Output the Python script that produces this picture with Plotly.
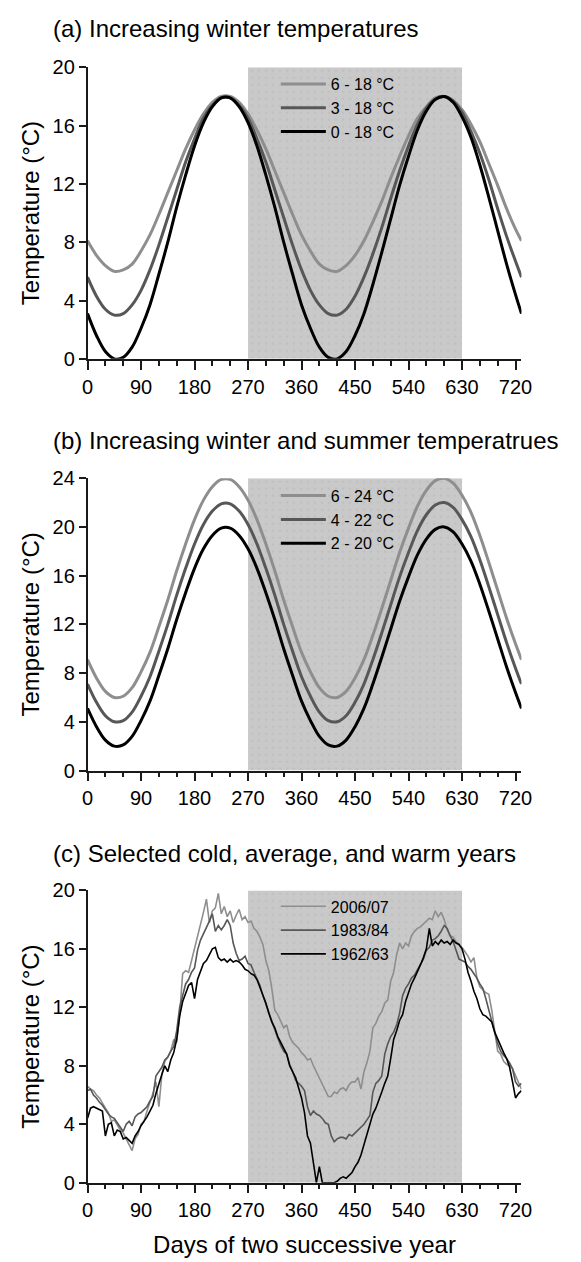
import plotly.graph_objects as go

W, H = 581, 1262
FONT = "Liberation Sans, Arial, sans-serif"

# ---------------- data ----------------
SINE_DAYS = [0, 15, 30, 45, 60, 75, 90, 105, 120, 135, 150, 165, 180, 195, 210, 225,
             240, 255, 270, 285, 300, 315, 330, 345, 360, 375, 390, 405, 420, 435, 450, 465,
             480, 495, 510, 525, 540, 555, 570, 585, 600, 615, 630, 645, 660, 675, 690, 705, 720,
             730]

A_6_18 = [8.1, 7.1, 6.4, 6.0, 6.1, 6.5, 7.4, 8.5, 9.9, 11.4, 12.9, 14.4, 15.7, 16.8, 17.6, 18.0,
          18.0, 17.6, 16.8, 15.7, 14.4, 12.9, 11.4, 9.9, 8.5, 7.4, 6.5, 6.1, 6.0, 6.4, 7.1, 8.1,
          9.4, 10.8, 12.4, 13.9, 15.3, 16.5, 17.3, 17.9, 18.0, 17.7, 17.1, 16.1, 14.9, 13.4, 11.9, 10.3, 8.9,
          8.1]
A_3_18 = [5.6, 4.3, 3.4, 3.0, 3.1, 3.7, 4.7, 6.1, 7.8, 9.7, 11.6, 13.5, 15.1, 16.5, 17.4, 17.9,
          17.9, 17.4, 16.5, 15.1, 13.5, 11.6, 9.7, 7.8, 6.1, 4.7, 3.7, 3.1, 3.0, 3.4, 4.3, 5.6,
          7.2, 9.0, 11.0, 12.9, 14.6, 16.1, 17.2, 17.8, 18.0, 17.7, 16.9, 15.6, 14.1, 12.3, 10.3, 8.4, 6.7,
          5.6]
A_0_18 = [3.1, 1.6, 0.5, 0.0, 0.1, 0.8, 2.1, 3.7, 5.8, 8.0, 10.4, 12.6, 14.6, 16.2, 17.3, 17.9,
          17.9, 17.3, 16.2, 14.6, 12.6, 10.4, 8.0, 5.8, 3.7, 2.1, 0.8, 0.1, 0.0, 0.5, 1.6, 3.1,
          5.1, 7.3, 9.6, 11.9, 13.9, 15.7, 17.0, 17.8, 18.0, 17.6, 16.6, 15.2, 13.3, 11.1, 8.8, 6.5, 4.4,
          3.1]

B_6_24 = [9.1, 7.6, 6.5, 6.0, 6.1, 6.8, 8.1, 9.7, 11.8, 14.0, 16.4, 18.6, 20.6, 22.2, 23.3, 23.9,
          23.9, 23.3, 22.2, 20.6, 18.6, 16.4, 14.0, 11.8, 9.7, 8.1, 6.8, 6.1, 6.0, 6.5, 7.6, 9.1,
          11.1, 13.3, 15.6, 17.9, 19.9, 21.7, 23.0, 23.8, 24.0, 23.6, 22.6, 21.2, 19.3, 17.1, 14.8, 12.5, 10.4,
          9.1]
B_4_22 = [7.1, 5.6, 4.5, 4.0, 4.1, 4.8, 6.1, 7.7, 9.8, 12.0, 14.4, 16.6, 18.6, 20.2, 21.3, 21.9,
          21.9, 21.3, 20.2, 18.6, 16.6, 14.4, 12.0, 9.8, 7.7, 6.1, 4.8, 4.1, 4.0, 4.5, 5.6, 7.1,
          9.1, 11.3, 13.6, 15.9, 17.9, 19.7, 21.0, 21.8, 22.0, 21.6, 20.6, 19.2, 17.3, 15.1, 12.8, 10.5, 8.4,
          7.1]
B_2_20 = [5.1, 3.6, 2.5, 2.0, 2.1, 2.8, 4.1, 5.7, 7.8, 10.0, 12.4, 14.6, 16.6, 18.2, 19.3, 19.9,
          19.9, 19.3, 18.2, 16.6, 14.6, 12.4, 10.0, 7.8, 5.7, 4.1, 2.8, 2.1, 2.0, 2.5, 3.6, 5.1,
          7.1, 9.3, 11.6, 13.9, 15.9, 17.7, 19.0, 19.8, 20.0, 19.6, 18.6, 17.2, 15.3, 13.1, 10.8, 8.5, 6.4,
          5.1]

C_DAYS = list(range(0, 731, 5))

Y_2006_07 = [6.6, 6.4, 6.3, 6.0, 5.8, 5.4, 5.1, 4.8, 4.2, 4.3,
             3.9, 3.6, 3.4, 3.0, 2.6, 2.2, 3.0, 3.3, 4.0, 4.2,
             4.9, 5.5, 6.1, 6.9, 5.2, 7.4, 8.3, 8.6, 9.0, 9.8,
             9.6, 11.5, 14.3, 14.5, 14.4, 15.2, 16.0, 16.7, 17.6, 18.5,
             19.4, 17.8, 18.6, 18.8, 19.8, 18.4, 18.9, 18.2, 18.6, 17.8,
             18.3, 18.7, 18.0, 18.2, 17.8, 17.9, 17.4, 17.2, 16.8, 16.3,
             15.2, 14.5, 13.3, 11.8, 11.5, 11.0, 10.6, 10.8, 10.0, 9.6,
             9.4, 9.2, 8.9, 8.7, 8.4, 8.5, 8.0, 7.6, 7.1, 6.8,
             6.4, 5.9, 5.9, 6.2, 6.1, 6.4, 6.5, 6.3, 6.7, 6.9,
             6.9, 7.2, 6.4, 7.6, 8.2, 9.0, 10.6, 10.9, 11.4, 11.7,
             12.3, 12.5, 13.8, 14.4, 15.6, 16.4, 16.0, 16.4, 16.2, 16.9,
             17.2, 17.4, 17.5, 17.7, 17.9, 18.1, 18.0, 18.6, 18.2, 18.5,
             18.0, 17.3, 16.9, 16.8, 16.5, 16.3, 16.1, 15.8, 15.5, 15.1,
             15.4, 14.0, 13.4, 13.2, 13.0, 12.9, 11.8, 10.4, 9.0, 8.8,
             8.3, 8.1, 8.0, 7.8, 7.3, 6.8, 6.4]
Y_1983_84 = [6.3, 6.4, 6.0, 5.8, 5.5, 5.3, 5.0, 4.7, 4.5, 4.4,
             4.1, 3.8, 3.5, 4.0, 4.2, 3.9, 4.5, 4.7, 4.8, 5.0,
             5.2, 5.6, 5.9, 7.3, 7.6, 7.9, 8.4, 8.6, 9.0, 9.3,
             10.4, 12.0, 12.8, 13.6, 13.9, 14.4, 14.7, 15.9, 16.6, 17.0,
             17.5, 17.9, 18.4, 17.2, 17.6, 17.3, 17.6, 18.0, 17.6, 16.4,
             15.7, 15.2, 15.3, 15.5, 15.0, 14.9, 14.4, 13.9, 13.5, 12.8,
             12.2, 11.7, 11.0, 10.4, 9.9, 9.4, 9.0, 8.8, 8.1, 7.6,
             7.0, 6.8, 6.6, 6.3, 5.2, 4.6, 4.9, 4.7, 4.6, 4.4,
             4.1, 4.0, 3.2, 2.8, 3.0, 3.1, 3.1, 3.0, 3.3, 3.2,
             3.4, 3.6, 3.8, 4.0, 4.3, 4.6, 6.2, 6.8, 7.0, 7.3,
             8.8, 9.5, 10.0, 10.3, 10.8, 11.6, 12.8, 13.3, 13.6, 14.0,
             14.2, 14.6, 14.9, 15.3, 15.9, 16.1, 16.6, 16.7, 16.9, 17.2,
             17.6, 17.4, 16.9, 16.5, 15.9, 15.3, 15.2, 15.1, 14.8, 14.6,
             14.3, 14.0, 13.6, 13.3, 12.6, 11.8, 11.1, 10.3, 9.5, 9.0,
             8.7, 8.5, 8.2, 7.8, 6.9, 6.6, 6.8]
Y_1962_63 = [4.4, 5.1, 5.2, 5.1, 5.0, 4.9, 3.2, 4.0, 4.1, 3.2,
             3.6, 3.5, 3.0, 3.1, 2.9, 2.7, 3.2, 3.5, 3.9, 4.2,
             4.5, 4.9, 5.3, 6.1, 6.8, 7.4, 8.0, 7.6, 8.4, 8.9,
             9.8, 11.4, 12.4, 13.0, 13.5, 13.7, 12.6, 13.9, 14.4, 15.0,
             15.2, 15.6, 16.0, 16.1, 15.4, 15.2, 15.3, 15.1, 15.3, 15.1,
             15.2, 15.1, 14.9, 14.6, 14.5, 14.3, 14.2, 13.9, 13.4, 12.9,
             12.3, 11.6, 11.0, 10.6, 10.0, 9.6, 9.2, 8.8, 8.0, 7.6,
             7.2, 6.5, 5.8, 4.8, 3.2, 2.7, 1.5, 0.0, 1.1, 0.0,
             0.0, 0.0, 0.0, 0.0, 0.1, 0.3, 0.4, 0.3, 0.5, 0.7,
             1.1, 1.4, 1.9, 2.6, 3.4, 4.1, 4.7, 5.1, 5.6, 6.2,
             6.8, 7.3, 8.5, 9.8, 10.4, 11.1, 11.5, 12.4, 13.0, 13.6,
             14.0, 14.4, 14.9, 15.4, 16.0, 17.4, 16.2, 16.5, 16.3, 16.6,
             16.4, 16.5, 16.3, 16.6, 16.4, 16.3, 16.0, 15.3, 14.4, 13.8,
             13.1, 12.6, 11.9, 11.5, 11.4, 11.2, 11.0, 10.3, 9.8, 9.3,
             8.9, 8.5, 7.9, 6.9, 5.8, 6.1, 6.3]

WINTER_START, WINTER_END = 270, 630
X_TICKS = [0, 90, 180, 270, 360, 450, 540, 630, 720]

PANELS = [
    dict(title="(a) Increasing winter temperatures", ymax=20, dtick=4,
         x=SINE_DAYS, series=[("6 - 18 °C", A_6_18), ("3 - 18 °C", A_3_18), ("0 - 18 °C", A_0_18)],
         width=3, shape="spline"),
    dict(title="(b) Increasing winter and summer temperatrues", ymax=24, dtick=4,
         x=SINE_DAYS, series=[("6 - 24 °C", B_6_24), ("4 - 22 °C", B_4_22), ("2 - 20 °C", B_2_20)],
         width=3, shape="spline"),
    dict(title="(c) Selected cold, average, and warm years", ymax=20, dtick=4,
         x=C_DAYS, series=[("2006/07", Y_2006_07), ("1983/84", Y_1983_84), ("1962/63", Y_1962_63)],
         width=1.6, shape="linear"),
]
COLORS = ["#8e8e8e", "#575757", "#000000"]

# ---------------- layout geometry (pixels from top) ----------------
PLOT_LEFT, PLOT_RIGHT = 84, 531
PANEL_PX = [(57.3, 354.0), (475.5, 773.0), (895.0, 1192.5)]   # (top, bottom)
TITLE_PX = [18, 437, 857]
LEGEND_TOP_PX = [57, 476, 894]
LEGEND_LEFT_PX = 278

fig = go.Figure()
layout = dict(
    width=W, height=H,
    margin=dict(l=0, r=0, t=0, b=0),
    paper_bgcolor="white", plot_bgcolor="white",
    font=dict(family=FONT, color="black"),
    showlegend=True,
    annotations=[],
)

for i, p in enumerate(PANELS):
    n = "" if i == 0 else str(i + 1)
    xa, ya = "x" + n, "y" + n
    leg = "legend" + n
    # shaded winter band
    fig.add_trace(go.Scatter(
        x=[WINTER_START, WINTER_END, WINTER_END, WINTER_START, WINTER_START],
        y=[0, 0, p["ymax"], p["ymax"], 0],
        fill="toself", mode="lines", line=dict(width=0),
        fillcolor="#c9c9c9",
        fillpattern=dict(shape=".", bgcolor="#c9c9c9", fgcolor="#a9a9a9", size=7, solidity=0.06),
        hoverinfo="skip", showlegend=False, xaxis=xa, yaxis=ya, legend=leg))
    for (name, vals), col in zip(p["series"], COLORS):
        fig.add_trace(go.Scatter(
            x=p["x"], y=vals, mode="lines", name=name,
            line=dict(color=col, width=p["width"], shape=p["shape"]),
            xaxis=xa, yaxis=ya, legend=leg))
    top, bot = PANEL_PX[i]
    axis_common = dict(showgrid=False, zeroline=False, showline=True, linecolor="#1a1a1a",
                       linewidth=1.5, ticks="outside", tickcolor="#1a1a1a", tickwidth=1.5,
                       tickfont=dict(family=FONT, size=20, color="black"))
    layout["xaxis" + n] = dict(axis_common, domain=[PLOT_LEFT / W, PLOT_RIGHT / W], anchor=ya,
                               range=[0, 730], tickvals=X_TICKS, ticklen=9,
                               minor=dict(dtick=30, tick0=0, ticks="outside", ticklen=5,
                                          tickwidth=1.5, tickcolor="#1a1a1a"))
    layout["yaxis" + n] = dict(axis_common, domain=[1 - bot / H, 1 - top / H], anchor=xa,
                               range=[0, p["ymax"]], dtick=p["dtick"], tick0=0, ticklen=7,
                               title=dict(text="Temperature (°C)", standoff=6,
                                          font=dict(family=FONT, size=24, color="black")))
    layout[leg] = dict(x=LEGEND_LEFT_PX / W, y=1 - LEGEND_TOP_PX[i] / H, xanchor="left",
                       yanchor="top", bgcolor="rgba(0,0,0,0)", itemwidth=45,
                       font=dict(family=FONT, size=16, color="black"), traceorder="normal")
    layout["annotations"].append(dict(
        text=p["title"], xref="paper", yref="paper", x=46 / W, y=1 - TITLE_PX[i] / H,
        xanchor="left", yanchor="middle", showarrow=False,
        font=dict(family=FONT, size=24, color="black")))

layout["xaxis3"]["title"] = dict(text="Days of two successive year", standoff=16,
                                 font=dict(family=FONT, size=24, color="black"))

fig.update_layout(**layout)
fig.write_html("out.html")
